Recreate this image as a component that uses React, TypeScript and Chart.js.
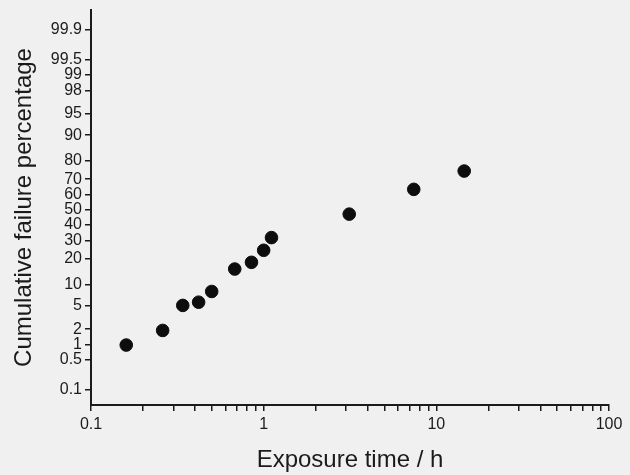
import React, { useEffect, useRef } from "react";
import { Chart, Scale, registerables } from "chart.js";

Chart.register(...registerables);

// Exposure time (h) for each failure
const EXPOSURE_TIMES = [0.16, 0.26, 0.34, 0.42, 0.5, 0.68, 0.85, 1.0, 1.11, 3.13, 7.4, 14.5];
// Cumulative failure percentage
const FAILURE_PCT = [1, 1.9, 5, 5.6, 8, 15.4, 18.3, 24.3, 31.6, 47, 63.7, 74.7];

const Y_TICKS = [0.1, 0.5, 1, 2, 5, 10, 20, 30, 40, 50, 60, 70, 80, 90, 95, 98, 99, 99.5, 99.9];
const X_TICKS: number[] = [];
[0.1, 1, 10].forEach((d) => {
  for (let k = 1; k <= 9; k++) X_TICKS.push(+(d * k).toPrecision(3));
});
X_TICKS.push(100);

const Y_MIN = 0.0394;
const Y_MAX = 99.9703;

// Inverse standard normal CDF (Acklam)
function probit(p: number): number {
  const a = [-3.969683028665376e1, 2.209460984245205e2, -2.759285104469687e2, 1.38357751867269e2, -3.066479806614716e1, 2.506628277459239];
  const b = [-5.447609879822406e1, 1.615858368580409e2, -1.556989798598866e2, 6.680131188771972e1, -1.328068155288572e1];
  const c = [-7.784894002430293e-3, -3.223964580411365e-1, -2.400758277161838, -2.549732539343734, 4.374664141464968, 2.938163982698783];
  const d = [7.784695709041462e-3, 3.224671290700398e-1, 2.445134137142996, 3.754408661907416];
  const plow = 0.02425;
  const phigh = 1 - plow;
  let q: number, r: number;
  if (p < plow) {
    q = Math.sqrt(-2 * Math.log(p));
    return (((((c[0] * q + c[1]) * q + c[2]) * q + c[3]) * q + c[4]) * q + c[5]) / ((((d[0] * q + d[1]) * q + d[2]) * q + d[3]) * q + 1);
  }
  if (p <= phigh) {
    q = p - 0.5;
    r = q * q;
    return ((((((a[0] * r + a[1]) * r + a[2]) * r + a[3]) * r + a[4]) * r + a[5]) * q) / (((((b[0] * r + b[1]) * r + b[2]) * r + b[3]) * r + b[4]) * r + 1);
  }
  q = Math.sqrt(-2 * Math.log(1 - p));
  return -(((((c[0] * q + c[1]) * q + c[2]) * q + c[3]) * q + c[4]) * q + c[5]) / ((((d[0] * q + d[1]) * q + d[2]) * q + d[3]) * q + 1);
}

class ProbitScale extends Scale {
  static id = "probit";
  static defaults = {};
  determineDataLimits() {
    const o: any = this.options;
    this.min = o.min;
    this.max = o.max;
  }
  buildTicks() {
    return Y_TICKS.map((v) => ({ value: v }));
  }
  getLabelForValue(v: number) {
    return String(v);
  }
  configure() {
    super.configure();
    (this as any)._zMin = probit(this.min / 100);
    (this as any)._zMax = probit(this.max / 100);
  }
  getPixelForValue(v: number) {
    const zMin = (this as any)._zMin;
    const zMax = (this as any)._zMax;
    return this.getPixelForDecimal((probit(v / 100) - zMin) / (zMax - zMin));
  }
  getPixelForTick(i: number) {
    return this.getPixelForValue(this.ticks[i].value);
  }
  getValueForPixel(px: number) {
    const dec = this.getDecimalForPixel(px);
    const zMin = (this as any)._zMin;
    const zMax = (this as any)._zMax;
    const z = zMin + dec * (zMax - zMin);
    const t = 1 / (1 + 0.2316419 * Math.abs(z));
    const dd = 0.3989423 * Math.exp((-z * z) / 2);
    let p = dd * t * (0.3193815 + t * (-0.3565638 + t * (1.781478 + t * (-1.821256 + t * 1.330274))));
    if (z > 0) p = 1 - p;
    return p * 100;
  }
}
Chart.register(ProbitScale as any);

const FONT = "'Liberation Sans', Arial, Helvetica, sans-serif";
const INK = "#1b1b1b";

export default function App() {
  const ref = useRef<HTMLCanvasElement | null>(null);
  useEffect(() => {
    if (!ref.current) return;
    const chart = new Chart(ref.current, {
      type: "scatter",
      data: {
        datasets: [
          {
            data: EXPOSURE_TIMES.map((x, i) => ({ x, y: FAILURE_PCT[i] })),
            backgroundColor: "#0d0d0d",
            borderColor: "#0d0d0d",
            pointRadius: 6.3,
            pointHoverRadius: 6.3,
          },
        ],
      },
      options: {
        responsive: false,
        animation: false,
        layout: { padding: { left: 0, top: 10, right: 21, bottom: 0 } },
        plugins: { legend: { display: false }, tooltip: { enabled: false } },
        scales: {
          x: {
            type: "logarithmic",
            min: 0.1,
            max: 100,
            afterBuildTicks: (s: any) => {
              s.ticks = X_TICKS.map((v) => ({ value: v }));
            },
            afterFit: (s: any) => {
              s.height = 70;
              s.paddingLeft = 0;
              s.paddingRight = 0;
            },
            ticks: {
              autoSkip: false,
              maxRotation: 0,
              padding: 4,
              color: INK,
              font: { family: FONT, size: 16 },
              callback: (v: any) => {
                const l = Math.log10(Number(v));
                return Math.abs(l - Math.round(l)) < 1e-6 ? String(Number(v)) : "";
              },
            },
            grid: { drawOnChartArea: false, drawTicks: true, tickLength: 6, color: INK, lineWidth: 1.5 },
            border: { display: true, color: INK, width: 2 },
            title: {
              display: true,
              text: "Exposure time / h",
              color: INK,
              font: { family: FONT, size: 24, weight: "normal" },
              padding: { top: 4, bottom: 0 },
            },
          },
          y: {
            type: "probit" as any,
            min: Y_MIN,
            max: Y_MAX,
            afterFit: (s: any) => {
              s.width = 91;
              s.paddingTop = 0;
              s.paddingBottom = 0;
            },
            ticks: {
              autoSkip: false,
              padding: 3,
              color: INK,
              font: { family: FONT, size: 16 },
              callback: (v: any) => String(v),
            },
            grid: { drawOnChartArea: false, drawTicks: true, tickLength: 6, color: INK, lineWidth: 1.5 },
            border: { display: true, color: INK, width: 2 },
            title: {
              display: true,
              text: "Cumulative failure percentage",
              color: INK,
              font: { family: FONT, size: 24, weight: "normal" },
              padding: { top: 10, bottom: 0 },
            },
          } as any,
        },
      },
    });
    return () => chart.destroy();
  }, []);
  return (
    <div style={{ position: "fixed", left: 0, top: 0, width: 630, height: 475, background: "#f0f0f0" }}>
      <canvas ref={ref} width={630} height={475} style={{ display: "block" }} />
    </div>
  );
}
